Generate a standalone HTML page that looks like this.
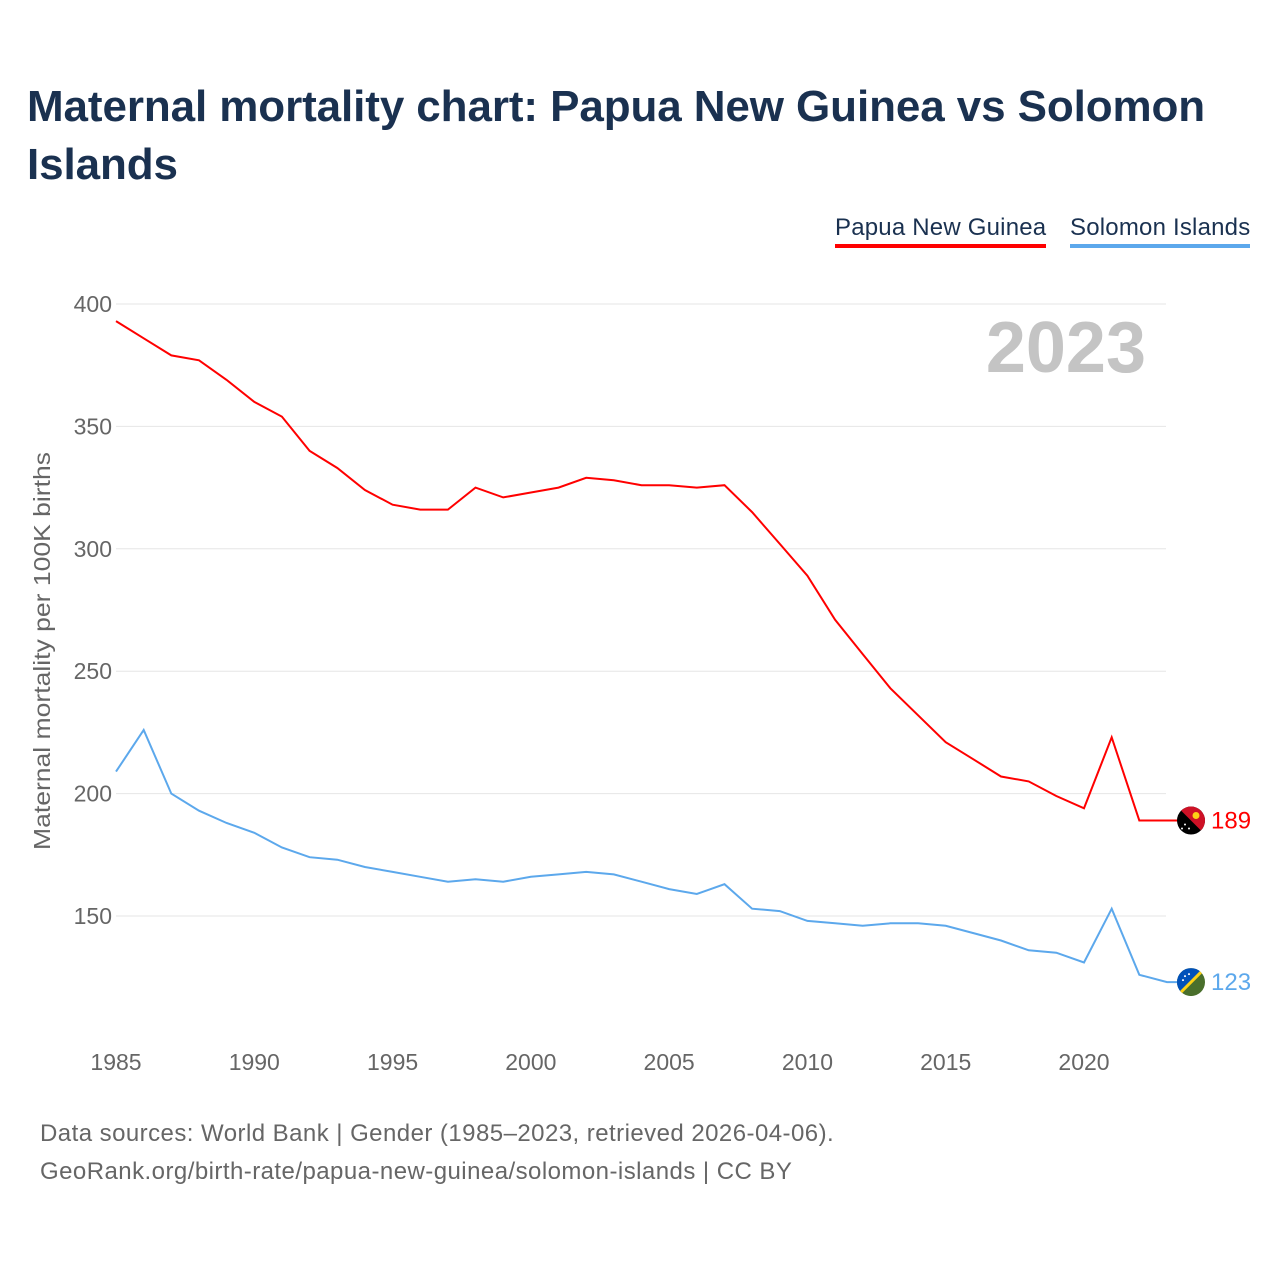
<!DOCTYPE html>
<html><head><meta charset="utf-8">
<style>
body{margin:0;background:#fff;font-family:"Liberation Sans",sans-serif;}
#wrap{position:relative;width:1280px;height:1280px;overflow:hidden;}
h1{position:absolute;left:27px;top:78px;margin:0;font-size:44px;line-height:58px;color:#1a3150;font-weight:bold;width:1240px;letter-spacing:-0.1px}
.leg{position:absolute;top:214px;font-size:24px;color:#1a3150;padding-bottom:2px}
.foot{position:absolute;left:40px;font-size:24px;color:#666;letter-spacing:0.45px}
</style></head><body>
<div id="wrap">
<h1>Maternal mortality chart: Papua New Guinea vs Solomon Islands</h1>
<div class="leg" style="left:835px;border-bottom:4px solid #f00;letter-spacing:0.2px">Papua New Guinea</div>
<div class="leg" style="left:1070px;border-bottom:4px solid #5ca8ec;letter-spacing:0.2px">Solomon Islands</div>
<svg id="svg" width="1280" height="1280" style="position:absolute;left:0;top:0"></svg>
<div class="foot" style="top:1120px">Data sources: World Bank | Gender (1985–2023, retrieved 2026-04-06).</div>
<div class="foot" style="top:1158px">GeoRank.org/birth-rate/papua-new-guinea/solomon-islands | CC BY</div>
</div>
<script>
const years=[];for(let y=1985;y<=2023;y++)years.push(y);
const png=[393,386,379,377,369,360,354,340,333,324,318,316,316,325,321,323,325,329,328,326,326,325,326,315,302,289,271,257,243,232,221,214,207,205,199,194,223,189,189];
const sol=[209,226,200,193,188,184,178,174,173,170,168,166,164,165,164,166,167,168,167,164,161,159,163,153,152,148,147,146,147,147,146,143,140,136,135,131,153,126,123];
const yTicks=[150,200,250,300,350,400];
const xTicks=[1985,1990,1995,2000,2005,2010,2015,2020];
const X=y=>116+(y-1985)*(968/35);
const Y=v=>304+(400-v)*2.448;
const svg=document.getElementById('svg');const NS='http://www.w3.org/2000/svg';
function mk(t,a,txt){const e=document.createElementNS(NS,t);for(const k in a)e.setAttribute(k,a[k]);if(txt!=null)e.textContent=txt;svg.appendChild(e);return e;}
yTicks.forEach(v=>{
 const g=mk('line',{x1:116,x2:1166,y1:Y(v),y2:Y(v),stroke:'#e6e6e6','stroke-width':1});
 
 
 const t=mk('text',{x:112,y:Y(v)+8,'text-anchor':'end','font-size':23,fill:'#666'},v);
 
 
});
xTicks.forEach(v=>{
 const t=mk('text',{x:X(v),y:1070,'text-anchor':'middle','font-size':23,fill:'#666'},v);
 
 
});
const yt=mk('text',{x:50,y:651,transform:'rotate(-90 50 651)','text-anchor':'middle','font-size':23,fill:'#666',textLength:398,lengthAdjust:'spacingAndGlyphs'},'Maternal mortality per 100K births');


const yr=mk('text',{x:1146,y:372,'text-anchor':'end','font-size':72,'font-weight':'bold',fill:'#c4c4c4'},'2023');


function line(d,c,n){
 const p=mk('path',{d:d.map((v,i)=>(i?'L':'M')+X(years[i]).toFixed(1)+','+Y(v).toFixed(1)).join(' ')+' L1180,'+Y(d[d.length-1]).toFixed(1),fill:'none',stroke:c,'stroke-width':2});
 
 
 const l=mk('text',{x:1211,y:Y(d[d.length-1])+8,'font-size':24,fill:c},d[d.length-1]);
 
 
}
line(png,'#ff0000','png');line(sol,'#5ca8ec','sol');
const cx=1191;
let cy=Y(png[png.length-1]);
let g=document.createElementNS(NS,'g');svg.appendChild(g);


g.innerHTML=`<clipPath id="c1"><circle cx="${cx}" cy="${cy}" r="14"/></clipPath><g clip-path="url(#c1)"><rect x="${cx-14}" y="${cy-14}" width="28" height="28" fill="#000"/><polygon points="${cx-14},${cy-14} ${cx+14},${cy-14} ${cx+14},${cy+14}" fill="#ce1126"/><circle cx="${cx+5}" cy="${cy-5}" r="3.5" fill="#fcd116"/><circle cx="${cx-6}" cy="${cy+4}" r="1" fill="#fff"/><circle cx="${cx-2}" cy="${cy+8}" r="1" fill="#fff"/><circle cx="${cx-9}" cy="${cy+8}" r="1" fill="#fff"/></g>`;
cy=Y(sol[sol.length-1]);
g=document.createElementNS(NS,'g');svg.appendChild(g);


g.innerHTML=`<clipPath id="c2"><circle cx="${cx}" cy="${cy}" r="14"/></clipPath><g clip-path="url(#c2)"><rect x="${cx-14}" y="${cy-14}" width="28" height="28" fill="#4a6f2c"/><polygon points="${cx-14},${cy-14} ${cx+14},${cy-14} ${cx-14},${cy+14}" fill="#0051ba"/><line x1="${cx-14}" y1="${cy+14}" x2="${cx+14}" y2="${cy-14}" stroke="#fcd116" stroke-width="3"/><circle cx="${cx-6}" cy="${cy-6}" r="1" fill="#fff"/><circle cx="${cx-2}" cy="${cy-8}" r="1" fill="#fff"/><circle cx="${cx-8}" cy="${cy-2}" r="1" fill="#fff"/></g>`;
</script>
</body></html>
